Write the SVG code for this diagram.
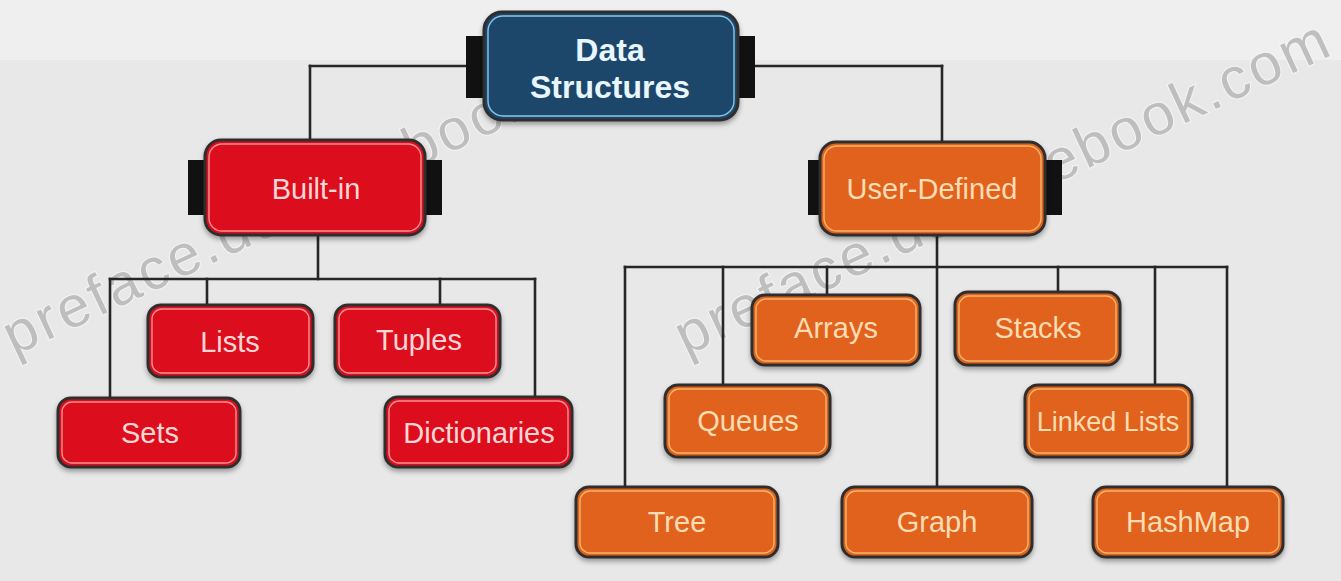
<svg xmlns="http://www.w3.org/2000/svg" width="1341" height="581" viewBox="0 0 1341 581">
<defs>
<filter id="sh" x="-10%" y="-10%" width="120%" height="130%">
<feDropShadow dx="0" dy="3" stdDeviation="2.5" flood-color="#000" flood-opacity="0.35"/>
</filter>
</defs>
<style>
.bg{fill:#e8e8e8}
.wm{font-family:"Liberation Sans",Arial,sans-serif;font-size:58px;letter-spacing:3px;fill:#bababa;stroke:#f6f6f6;stroke-width:2;paint-order:stroke;opacity:0.9}
.conn line{stroke:#262626;stroke-width:2.6;stroke-linecap:square}
.tab{fill:#111}
.outer{stroke:#2e2e2e;stroke-width:3;filter:url(#sh)}
.inner{fill:none;stroke-width:1.4}
.red .outer{fill:#dc0b1f}
.red .inner{stroke:#ff8f8f}
.org .outer{fill:#e1621d}
.org .inner{stroke:#f7b46a}
.navy .outer{fill:#1f466a}
.navy .inner{stroke:#8cc6ea}
.lbl{font-family:"Liberation Sans",Arial,sans-serif;text-anchor:middle}
.red .lbl{fill:#ffd6d6;font-size:29px}
.org .lbl{fill:#ffdcb4;font-size:29px}
.navy .lbl{fill:#e8f6ff;font-size:32px;font-weight:bold}
.big{font-size:31px}
</style>
<rect class="bg" x="0" y="0" width="1341" height="581"/>
<rect x="0" y="0" width="1341" height="60" fill="#efefef"/>

<g id="watermarks">
<text class="wm" transform="translate(14,356) rotate(-25)">preface.dublinebook.com</text>
<text class="wm" transform="translate(686,356) rotate(-25)">preface.dublinebook.com</text>
</g>

<g id="connectors" class="conn">
<line x1="310" y1="66" x2="942" y2="66"/>
<line x1="310" y1="66" x2="310" y2="140"/>
<line x1="942" y1="66" x2="942" y2="142"/>
<line x1="318" y1="235" x2="318" y2="279"/>
<line x1="110" y1="279" x2="535" y2="279"/>
<line x1="110" y1="279" x2="110" y2="398"/>
<line x1="207" y1="279" x2="207" y2="305"/>
<line x1="440" y1="279" x2="440" y2="305"/>
<line x1="535" y1="279" x2="535" y2="397"/>
<line x1="937" y1="235" x2="937" y2="487"/>
<line x1="625" y1="267" x2="1227" y2="267"/>
<line x1="625" y1="267" x2="625" y2="487"/>
<line x1="723" y1="267" x2="723" y2="385"/>
<line x1="827" y1="267" x2="827" y2="295"/>
<line x1="1058" y1="267" x2="1058" y2="292"/>
<line x1="1155" y1="267" x2="1155" y2="385"/>
<line x1="1227" y1="267" x2="1227" y2="487"/>
</g>

<g id="data-structures" class="navy">
<rect class="tab" x="466" y="36" width="22" height="62"/>
<rect class="tab" x="734" y="36" width="21" height="62"/>
<rect class="outer" x="484" y="12" width="254" height="108" rx="18"/>
<rect class="inner" x="488" y="16" width="246" height="100" rx="15"/>
<text class="lbl" x="610" y="61">Data</text>
<text class="lbl" x="610" y="98">Structures</text>
</g>

<g id="built-in" class="red">
<rect class="tab" x="188" y="160" width="20" height="55"/>
<rect class="tab" x="422" y="160" width="20" height="55"/>
<rect class="outer" x="205" y="140" width="220" height="95" rx="16"/>
<rect class="inner" x="209" y="144" width="212" height="87" rx="13"/>
<text class="lbl big" x="316" y="199">Built-in</text>
</g>

<g id="user-defined" class="org">
<rect class="tab" x="808" y="160" width="16" height="55"/>
<rect class="tab" x="1042" y="160" width="20" height="55"/>
<rect class="outer" x="820" y="142" width="225" height="93" rx="16"/>
<rect class="inner" x="824" y="146" width="217" height="85" rx="13"/>
<text class="lbl big" x="932" y="199">User-Defined</text>
</g>

<g id="lists" class="red">
<rect class="outer" x="148" y="305" width="165" height="72" rx="13"/>
<rect class="inner" x="152" y="309" width="157" height="64" rx="10"/>
<text class="lbl" x="230" y="352">Lists</text>
</g>

<g id="tuples" class="red">
<rect class="outer" x="335" y="305" width="165" height="72" rx="13"/>
<rect class="inner" x="339" y="309" width="157" height="64" rx="10"/>
<text class="lbl" x="419" y="350">Tuples</text>
</g>

<g id="sets" class="red">
<rect class="outer" x="58" y="398" width="182" height="69" rx="13"/>
<rect class="inner" x="62" y="402" width="174" height="61" rx="10"/>
<text class="lbl" x="150" y="443">Sets</text>
</g>

<g id="dictionaries" class="red">
<rect class="outer" x="385" y="397" width="187" height="70" rx="13"/>
<rect class="inner" x="389" y="401" width="179" height="62" rx="10"/>
<text class="lbl" x="479" y="443">Dictionaries</text>
</g>

<g id="arrays" class="org">
<rect class="outer" x="752" y="295" width="168" height="70" rx="13"/>
<rect class="inner" x="756" y="299" width="160" height="62" rx="10"/>
<text class="lbl" x="836" y="338">Arrays</text>
</g>

<g id="stacks" class="org">
<rect class="outer" x="955" y="292" width="165" height="73" rx="13"/>
<rect class="inner" x="959" y="296" width="157" height="65" rx="10"/>
<text class="lbl" x="1038" y="338">Stacks</text>
</g>

<g id="queues" class="org">
<rect class="outer" x="665" y="385" width="165" height="72" rx="13"/>
<rect class="inner" x="669" y="389" width="157" height="64" rx="10"/>
<text class="lbl" x="748" y="431">Queues</text>
</g>

<g id="linked-lists" class="org">
<rect class="outer" x="1025" y="385" width="167" height="72" rx="13"/>
<rect class="inner" x="1029" y="389" width="159" height="64" rx="10"/>
<text class="lbl" x="1108" y="431" style="font-size:27px">Linked Lists</text>
</g>

<g id="tree" class="org">
<rect class="outer" x="576" y="487" width="202" height="70" rx="13"/>
<rect class="inner" x="580" y="491" width="194" height="62" rx="10"/>
<text class="lbl" x="677" y="532">Tree</text>
</g>

<g id="graph" class="org">
<rect class="outer" x="842" y="487" width="190" height="70" rx="13"/>
<rect class="inner" x="846" y="491" width="182" height="62" rx="10"/>
<text class="lbl" x="937" y="532">Graph</text>
</g>

<g id="hashmap" class="org">
<rect class="outer" x="1093" y="487" width="190" height="70" rx="13"/>
<rect class="inner" x="1097" y="491" width="182" height="62" rx="10"/>
<text class="lbl" x="1188" y="532">HashMap</text>
</g>
</svg>
